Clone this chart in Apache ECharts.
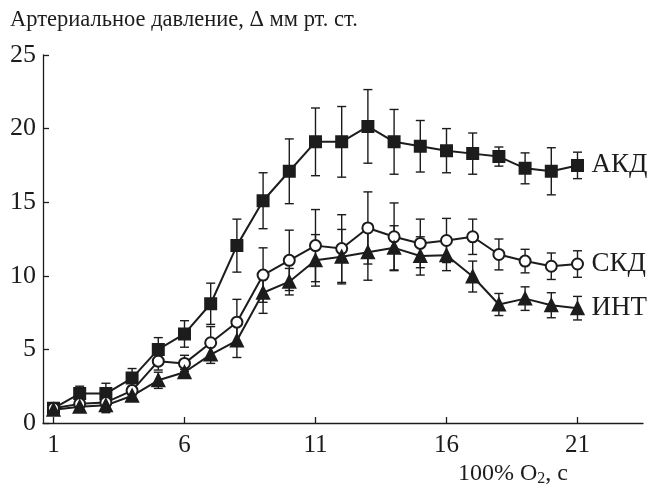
<!DOCTYPE html>
<html>
<head>
<meta charset="utf-8">
<script src="https://cdn.jsdelivr.net/npm/echarts@6/dist/echarts.min.js"></script>
<style>
  html, body { margin: 0; padding: 0; background: #fff; }
  #chart { width: 657px; height: 488px; }
</style>
</head>
<body>
<div id="chart"></div>
<script>
// time, s (100% O2)
const seconds = [1, 2, 3, 4, 5, 6, 7, 8, 9, 10, 11, 12, 13, 14, 15, 16, 17, 18, 19, 20, 21]
const xTicks = [1, 6, 11, 16, 21]

// АКД (filled squares)
const akd = [1.0, 2.0, 2.0, 3.05, 5.0, 6.05, 8.1, 12.05, 15.1, 17.1, 19.1, 19.1, 20.15, 19.1, 18.8, 18.5, 18.3, 18.1, 17.3, 17.1, 17.5]
const akdErr = [0, 0.5, 0.7, 0.65, 0.8, 0.9, 1.4, 1.8, 1.9, 2.2, 2.3, 2.4, 2.5, 2.2, 1.75, 1.5, 1.4, 0.65, 1.05, 1.6, 0.9]

// СКД (open circles)
const skd = [1.0, 1.3, 1.4, 2.2, 4.2, 4.05, 5.45, 6.85, 10.05, 11.05, 12.05, 11.85, 13.25, 12.65, 12.2, 12.4, 12.65, 11.45, 11.0, 10.65, 10.8]
const skdErr = [0, 0.2, 0.3, 0.3, 0.6, 0.55, 1.1, 1.55, 1.85, 2.05, 2.45, 2.3, 2.45, 2.3, 1.65, 1.5, 1.2, 1.05, 0.8, 0.9, 0.9]

// ИНТ (filled triangles)
const int = [0.9, 1.1, 1.2, 1.85, 2.9, 3.45, 4.65, 5.6, 8.85, 9.6, 11.05, 11.3, 11.6, 11.9, 11.35, 11.4, 9.95, 8.05, 8.45, 8.0, 7.8]
const intErr = [0, 0.2, 0.5, 0.2, 0.55, 0.2, 0.6, 1.15, 1.4, 0.9, 1.75, 1.85, 1.9, 1.5, 1.3, 1.05, 1.05, 0.75, 0.8, 0.85, 0.8]

const ink = '#1c1c1c'
const font = 'Liberation Serif'

const pairs = (ys) => seconds.map((x, i) => [x, ys[i]])
const bars = (ys, err) => seconds.map((x, i) => [x, ys[i] - err[i], ys[i] + err[i]])

function errorSeries (ys, err) {
    return {
        type: 'custom',
        z: 1,
        silent: true,
        data: bars(ys, err),
        renderItem: function (params, api) {
            const lo = api.coord([api.value(0), api.value(1)])
            const hi = api.coord([api.value(0), api.value(2)])
            const w = 4.5
            const style = { stroke: ink, lineWidth: 1.4 }
            return {
                type: 'group',
                children: [
                    { type: 'line', shape: { x1: lo[0], y1: lo[1], x2: hi[0], y2: hi[1] }, style },
                    { type: 'line', shape: { x1: lo[0] - w, y1: lo[1], x2: lo[0] + w, y2: lo[1] }, style },
                    { type: 'line', shape: { x1: hi[0] - w, y1: hi[1], x2: hi[0] + w, y2: hi[1] }, style }
                ]
            }
        }
    }
}

function lineSeries (name, ys, symbol, size, fill) {
    return {
        name: name,
        type: 'line',
        z: 3,
        data: pairs(ys),
        symbol: symbol,
        symbolSize: size,
        showAllSymbol: true,
        lineStyle: { color: ink, width: 2 },
        itemStyle: { color: fill, borderColor: ink, borderWidth: 2 },
        endLabel: {
            show: true,
            formatter: '{a}',
            distance: 14,
            color: ink,
            fontFamily: font,
            fontSize: 27
        },
        emphasis: { disabled: true }
    }
}

const myChart = echarts.init(document.getElementById('chart'))
myChart.setOption({
    animation: false,
    backgroundColor: '#fff',
    title: [
        {
            text: 'Артериальное давление, Δ мм рт. ст.',
            left: 5,
            top: 4,
            textStyle: { color: ink, fontFamily: font, fontSize: 22.5, fontWeight: 'normal' }
        },
        {
            text: '100% O{sub|2}, с',
            left: 453,
            top: 456,
            textStyle: {
                color: ink, fontFamily: font, fontSize: 24, fontWeight: 'normal',
                rich: {
                    sub: { fontFamily: font, fontSize: 16, verticalAlign: 'bottom', padding: [10, 0, 0, 0], color: ink }
                }
            }
        }
    ],
    grid: { left: 43, right: 14, top: 55, bottom: 65 },
    xAxis: {
        type: 'value',
        min: 0.6,
        max: 23.5,
        axisLine: { lineStyle: { color: ink, width: 1.3 } },
        axisTick: { inside: true, length: 6, customValues: xTicks, lineStyle: { color: ink, width: 1.3 } },
        axisLabel: { customValues: xTicks, color: ink, fontFamily: font, fontSize: 25, margin: 10 },
        splitLine: { show: false }
    },
    yAxis: {
        type: 'value',
        min: 0,
        max: 25,
        interval: 5,
        axisLine: { show: true, lineStyle: { color: ink, width: 1.3 } },
        axisTick: { show: true, inside: true, length: 6, lineStyle: { color: ink, width: 1.3 } },
        axisLabel: { color: ink, fontFamily: font, fontSize: 26, margin: 7 },
        splitLine: { show: false }
    },
    series: [
        errorSeries(akd, akdErr),
        errorSeries(skd, skdErr),
        errorSeries(int, intErr),
        lineSeries('АКД', akd, 'rect', 11, ink),
        lineSeries('СКД', skd, 'circle', 11, '#fff'),
        lineSeries('ИНТ', int, 'triangle', 12, ink)
    ]
})
</script>
</body>
</html>
